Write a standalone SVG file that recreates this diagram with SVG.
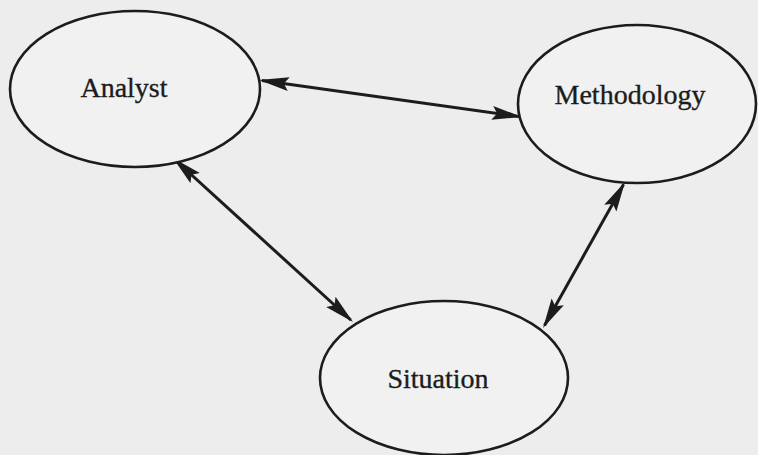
<svg xmlns="http://www.w3.org/2000/svg" width="758" height="455" viewBox="0 0 758 455">
  <style>
    .node ellipse { fill: #f1f1f1; stroke: #1c1c1c; stroke-width: 2.6; }
    .node text { font-family: "Liberation Serif", "Times New Roman", serif; font-size: 28px; fill: #1c1c1c; stroke: #1c1c1c; stroke-width: 0.35; text-anchor: middle; }
    .link { stroke: #1c1c1c; stroke-width: 3; fill: none; marker-start: url(#head); marker-end: url(#head); }
  </style>
  <defs>
    <!-- barbed arrowhead, tip sits 3px past the line end -->
    <marker id="head" markerUnits="userSpaceOnUse" markerWidth="32" markerHeight="16" viewBox="0 0 32 16" refX="27" refY="8" orient="auto-start-reverse">
      <path d="M0,1 L30,8 L0,15 L5,8 z" fill="#1c1c1c"/>
    </marker>
  </defs>
  <rect width="758" height="455" fill="#ededed"/>

  <g id="connectors">
    <line class="link" x1="262" y1="80.4" x2="519" y2="116.6"/>
    <line class="link" x1="175.2" y1="160" x2="350.8" y2="320"/>
    <line class="link" x1="544.5" y1="325.4" x2="623.5" y2="184.6"/>
  </g>

  <g id="analyst" class="node">
    <ellipse cx="135" cy="89" rx="125" ry="78"/>
    <text x="124" y="97">Analyst</text>
  </g>

  <g id="methodology" class="node">
    <ellipse cx="637" cy="104" rx="119" ry="79"/>
    <text x="630" y="104">Methodology</text>
  </g>

  <g id="situation" class="node">
    <ellipse cx="444" cy="378" rx="124" ry="77"/>
    <text x="438" y="388">Situation</text>
  </g>
</svg>
